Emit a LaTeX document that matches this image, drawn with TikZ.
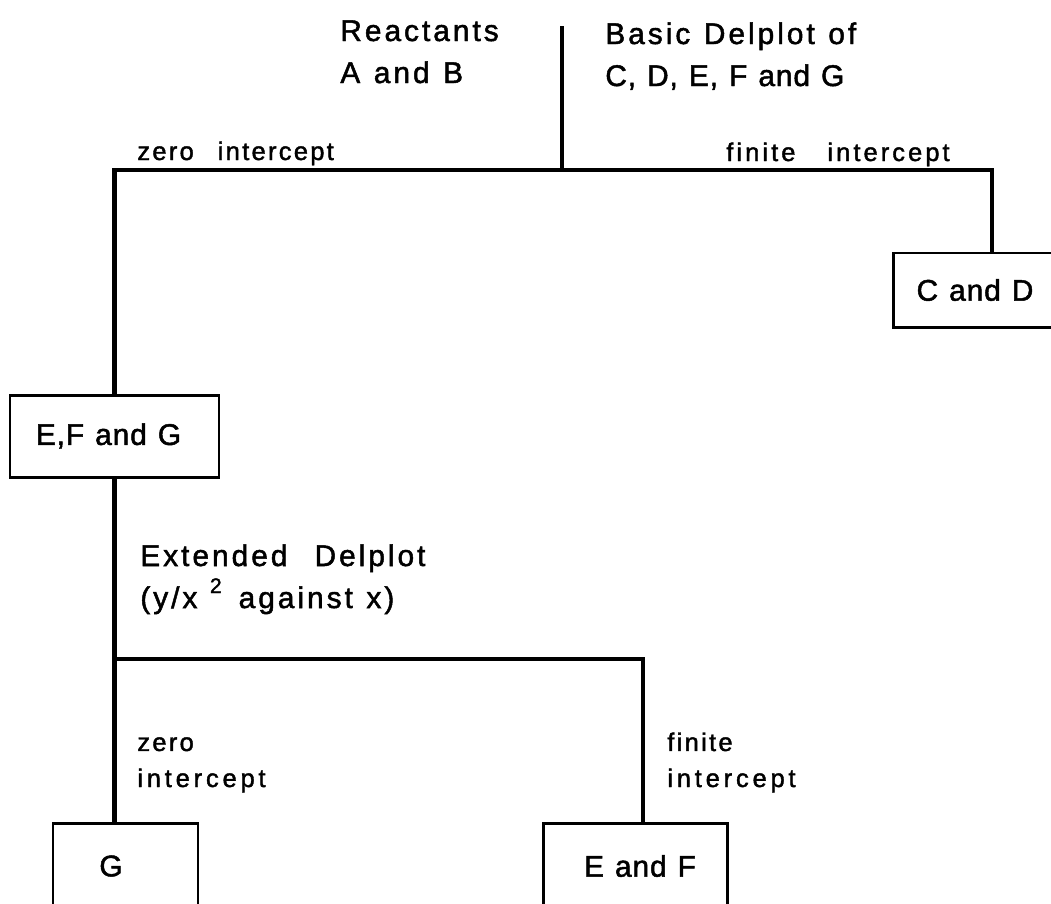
\documentclass[tikz,border=0pt]{standalone}
\usepackage{fontspec}
\setmainfont{Liberation Sans}[WordSpace=1.2, FakeBold=1.6]
\usepackage{tikz}
\usetikzlibrary{positioning}

\begin{document}
\begin{tikzpicture}[x=0.2mm, y=-0.2mm,
    box/.style={draw, line width=1.7pt, inner sep=0pt,
      font=\fontsize{17}{20}\selectfont\addfontfeature{LetterSpace=3}},
    branch/.style={line width=2.3pt},
    bigtxt/.style={anchor=base west, inner sep=0pt, align=left,
      font=\fontsize{17}{23.9}\selectfont\addfontfeature{LetterSpace=10}},
    smalltxt/.style={anchor=base west, inner sep=0pt, align=left,
      font=\fontsize{14.5}{20.5}\selectfont\addfontfeature{LetterSpace=9}}]
  \useasboundingbox (0,0) rectangle (1051,903);

  % boxes
  \node[box, minimum width=39.6mm, minimum height=14.8mm] (cd) at (992,290) {C and D\hspace*{6.8mm}};
  \node[box, minimum width=41.8mm, minimum height=16.4mm] (efg) at (114.5,436) {E,F and G\hspace*{2.4mm}};
  \node[box, minimum width=29mm, minimum height=17.2mm] (g) at (125.5,866) {G\hspace*{5.8mm}};
  \node[box, minimum width=36.8mm, minimum height=17.2mm] (ef) at (635,866) {\hspace*{2mm}E and F};

  % top split
  \coordinate (root) at (562,26);
  \coordinate (top) at (562,170);
  \coordinate (tl) at (114.5,170);
  \coordinate (tr) at (992,170);
  \draw[branch] (root) -- (top);
  \draw[branch] (efg.north) -- (tl) -- (tr) -- (cd.north);

  % lower split
  \coordinate (bl) at (114.5,659);
  \coordinate (br) at (643,659);
  \draw[branch] (efg.south) -- (bl) -- (br) -- (br |- ef.north);
  \draw[branch] (bl) -- (bl |- g.north);

  % labels (base = last line)
  \node[bigtxt] (react) at (340,83) {Reactants\\A and B};
  \node[bigtxt] (basic) at (605,86) {Basic Delplot of\\\addfontfeature{LetterSpace=3}C, D, E, F and G};
  \node[smalltxt] (zero1) at (137,160) {zero\hspace{4.8mm}intercept};
  \node[smalltxt] (fin1) at (726,161) {\addfontfeature{LetterSpace=12}finite\hspace{6.4mm}intercept};
  \node[bigtxt] (ext) at (140,608) {Extended\ \ Delplot\\(y/x\hspace{2.5mm}\raisebox{3mm}{\fontsize{12}{12}\selectfont 2}\hspace{3.4mm}against\ x)};
  \node[smalltxt] (zero2) at (137,787) {zero\\\addfontfeature{LetterSpace=15}intercept};
  \node[smalltxt] (fin2) at (667,787) {finite\\\addfontfeature{LetterSpace=15}intercept};

\end{tikzpicture}
\end{document}
